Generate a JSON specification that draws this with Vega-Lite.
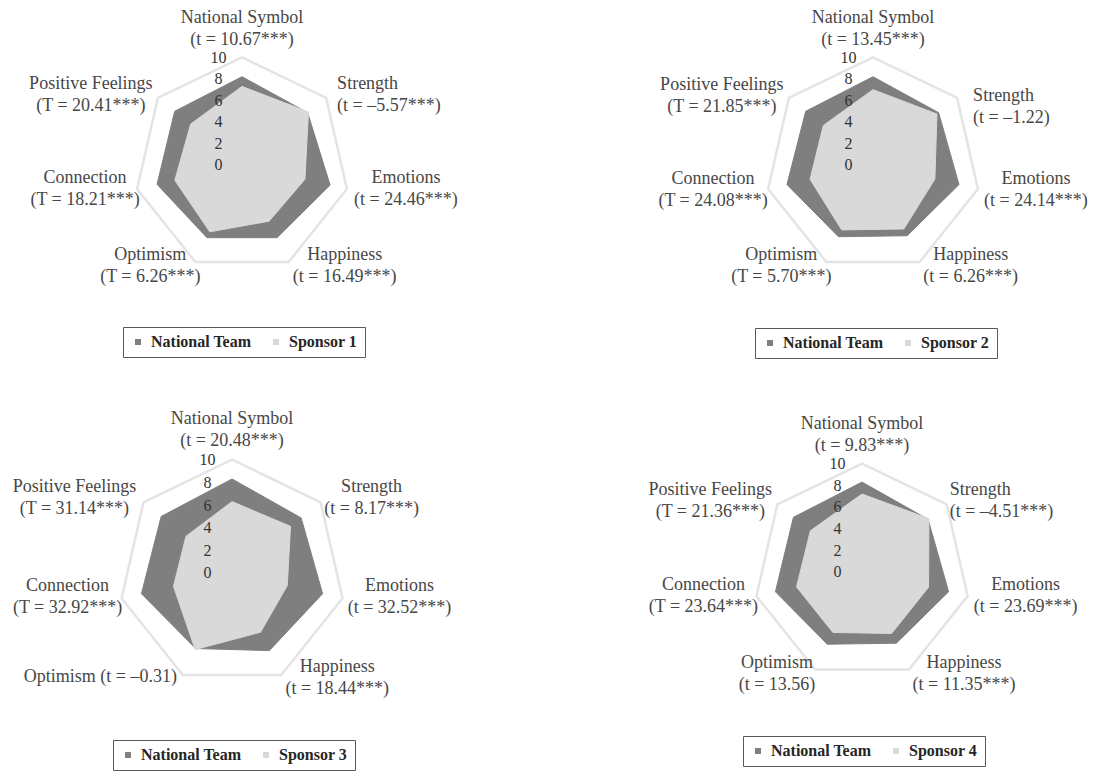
{
"$schema": "https://vega.github.io/schema/vega-lite/v6.json",
"padding": 0,
"background": "white",
"bounds": "flush",
"columns": 2,
"spacing": {"row": 43, "column": 171},
"resolve": {"scale": {"fill": "independent"}, "legend": {"fill": "independent"}},
"config": {
  "view": {"stroke": null},
  "text": {"font": "Liberation Serif", "fontSize": 18, "color": "#474747", "lineBreak": "\n", "lineHeight": 22, "baseline": "middle"},
  "legend": {"title": null, "orient": "none", "direction": "horizontal", "symbolType": "square", "symbolSize": 36, "symbolStrokeWidth": 0, "labelFont": "Liberation Serif", "labelFontSize": 16, "labelFontWeight": "bold", "labelColor": "#262626", "strokeColor": "#595959", "padding": 7, "columnPadding": 16, "labelOffset": 5}
},
"datasets": {
"scores": [
{"panel":1,"idx":0,"axis":"National Symbol","series":"National Team","value":8.2},
{"panel":1,"idx":1,"axis":"Strength","series":"National Team","value":7.8},
{"panel":1,"idx":2,"axis":"Emotions","series":"National Team","value":8.4},
{"panel":1,"idx":3,"axis":"Happiness","series":"National Team","value":7.5},
{"panel":1,"idx":4,"axis":"Optimism","series":"National Team","value":7.5},
{"panel":1,"idx":5,"axis":"Connection","series":"National Team","value":8.1},
{"panel":1,"idx":6,"axis":"Positive Feelings","series":"National Team","value":8.0},
{"panel":1,"idx":0,"axis":"National Symbol","series":"Sponsor 1","value":7.3},
{"panel":1,"idx":1,"axis":"Strength","series":"Sponsor 1","value":7.9},
{"panel":1,"idx":2,"axis":"Emotions","series":"Sponsor 1","value":6.0},
{"panel":1,"idx":3,"axis":"Happiness","series":"Sponsor 1","value":5.8},
{"panel":1,"idx":4,"axis":"Optimism","series":"Sponsor 1","value":6.9},
{"panel":1,"idx":5,"axis":"Connection","series":"Sponsor 1","value":6.4},
{"panel":1,"idx":6,"axis":"Positive Feelings","series":"Sponsor 1","value":6.1},
{"panel":2,"idx":0,"axis":"National Symbol","series":"National Team","value":8.2},
{"panel":2,"idx":1,"axis":"Strength","series":"National Team","value":7.8},
{"panel":2,"idx":2,"axis":"Emotions","series":"National Team","value":8.2},
{"panel":2,"idx":3,"axis":"Happiness","series":"National Team","value":7.3},
{"panel":2,"idx":4,"axis":"Optimism","series":"National Team","value":7.4},
{"panel":2,"idx":5,"axis":"Connection","series":"National Team","value":8.2},
{"panel":2,"idx":6,"axis":"Positive Feelings","series":"National Team","value":8.0},
{"panel":2,"idx":0,"axis":"National Symbol","series":"Sponsor 2","value":7.0},
{"panel":2,"idx":1,"axis":"Strength","series":"Sponsor 2","value":7.6},
{"panel":2,"idx":2,"axis":"Emotions","series":"Sponsor 2","value":5.9},
{"panel":2,"idx":3,"axis":"Happiness","series":"Sponsor 2","value":6.6},
{"panel":2,"idx":4,"axis":"Optimism","series":"Sponsor 2","value":6.7},
{"panel":2,"idx":5,"axis":"Connection","series":"Sponsor 2","value":6.0},
{"panel":2,"idx":6,"axis":"Positive Feelings","series":"Sponsor 2","value":5.9},
{"panel":3,"idx":0,"axis":"National Symbol","series":"National Team","value":8.3},
{"panel":3,"idx":1,"axis":"Strength","series":"National Team","value":7.8},
{"panel":3,"idx":2,"axis":"Emotions","series":"National Team","value":8.2},
{"panel":3,"idx":3,"axis":"Happiness","series":"National Team","value":7.6},
{"panel":3,"idx":4,"axis":"Optimism","series":"National Team","value":7.4},
{"panel":3,"idx":5,"axis":"Connection","series":"National Team","value":8.2},
{"panel":3,"idx":6,"axis":"Positive Feelings","series":"National Team","value":8.0},
{"panel":3,"idx":0,"axis":"National Symbol","series":"Sponsor 3","value":6.3},
{"panel":3,"idx":1,"axis":"Strength","series":"Sponsor 3","value":6.6},
{"panel":3,"idx":2,"axis":"Emotions","series":"Sponsor 3","value":5.0},
{"panel":3,"idx":3,"axis":"Happiness","series":"Sponsor 3","value":5.8},
{"panel":3,"idx":4,"axis":"Optimism","series":"Sponsor 3","value":7.5},
{"panel":3,"idx":5,"axis":"Connection","series":"Sponsor 3","value":5.3},
{"panel":3,"idx":6,"axis":"Positive Feelings","series":"Sponsor 3","value":5.2},
{"panel":4,"idx":0,"axis":"National Symbol","series":"National Team","value":8.3},
{"panel":4,"idx":1,"axis":"Strength","series":"National Team","value":7.8},
{"panel":4,"idx":2,"axis":"Emotions","series":"National Team","value":8.2},
{"panel":4,"idx":3,"axis":"Happiness","series":"National Team","value":7.3},
{"panel":4,"idx":4,"axis":"Optimism","series":"National Team","value":7.4},
{"panel":4,"idx":5,"axis":"Connection","series":"National Team","value":8.2},
{"panel":4,"idx":6,"axis":"Positive Feelings","series":"National Team","value":8.1},
{"panel":4,"idx":0,"axis":"National Symbol","series":"Sponsor 4","value":7.2},
{"panel":4,"idx":1,"axis":"Strength","series":"Sponsor 4","value":7.9},
{"panel":4,"idx":2,"axis":"Emotions","series":"Sponsor 4","value":6.3},
{"panel":4,"idx":3,"axis":"Happiness","series":"Sponsor 4","value":6.3},
{"panel":4,"idx":4,"axis":"Optimism","series":"Sponsor 4","value":6.2},
{"panel":4,"idx":5,"axis":"Connection","series":"Sponsor 4","value":6.2},
{"panel":4,"idx":6,"axis":"Positive Feelings","series":"Sponsor 4","value":6.1}
],
"labels": [
{"panel":1,"idx":0,"text":"National Symbol\n(t = 10.67***)"},
{"panel":1,"idx":1,"text":"Strength\n(t = –5.57***)"},
{"panel":1,"idx":2,"text":"Emotions\n(t = 24.46***)"},
{"panel":1,"idx":3,"text":"Happiness\n(t = 16.49***)"},
{"panel":1,"idx":4,"text":"Optimism\n(T = 6.26***)"},
{"panel":1,"idx":5,"text":"Connection\n(T = 18.21***)"},
{"panel":1,"idx":6,"text":"Positive Feelings\n(T = 20.41***)"},
{"panel":2,"idx":0,"text":"National Symbol\n(t = 13.45***)"},
{"panel":2,"idx":1,"text":"Strength\n(t = –1.22)"},
{"panel":2,"idx":2,"text":"Emotions\n(t = 24.14***)"},
{"panel":2,"idx":3,"text":"Happiness\n(t = 6.26***)"},
{"panel":2,"idx":4,"text":"Optimism\n(T = 5.70***)"},
{"panel":2,"idx":5,"text":"Connection\n(T = 24.08***)"},
{"panel":2,"idx":6,"text":"Positive Feelings\n(T = 21.85***)"},
{"panel":3,"idx":0,"text":"National Symbol\n(t = 20.48***)"},
{"panel":3,"idx":1,"text":"Strength\n(t = 8.17***)"},
{"panel":3,"idx":2,"text":"Emotions\n(t = 32.52***)"},
{"panel":3,"idx":3,"text":"Happiness\n(t = 18.44***)"},
{"panel":3,"idx":4,"text":"Optimism (t = –0.31)"},
{"panel":3,"idx":5,"text":"Connection\n(T = 32.92***)"},
{"panel":3,"idx":6,"text":"Positive Feelings\n(T = 31.14***)"},
{"panel":4,"idx":0,"text":"National Symbol\n(t = 9.83***)"},
{"panel":4,"idx":1,"text":"Strength\n(t = –4.51***)"},
{"panel":4,"idx":2,"text":"Emotions\n(t = 23.69***)"},
{"panel":4,"idx":3,"text":"Happiness\n(t = 11.35***)"},
{"panel":4,"idx":4,"text":"Optimism\n(t = 13.56)"},
{"panel":4,"idx":5,"text":"Connection\n(T = 23.64***)"},
{"panel":4,"idx":6,"text":"Positive Feelings\n(T = 21.36***)"}
]
},
"concat": [
{
 "width": 460, "height": 365,
 "encoding": {
  "x": {"field": "x", "type": "quantitative", "scale": {"domain": [-22.49, 20.26], "nice": false, "zero": false}, "axis": null},
  "y": {"field": "y", "type": "quantitative", "scale": {"domain": [-18.59, 15.33], "nice": false, "zero": false},
        "axis": {"values": [0,2,4,6,8,10], "orient": "left", "offset": -218, "domain": false, "ticks": false, "tickSize": 0, "grid": false, "labelPadding": 0, "labelAlign": "center", "labelBaseline": "middle", "labelFont": "Liberation Serif", "labelFontSize": 16, "labelColor": "#333333", "labelOverlap": false, "labelBound": false, "labelFlush": false, "title": null, "zindex": 1}}
 },
 "layer": [
  {"data": {"name": "scores"}, "transform": [{"filter": "datum.panel === 1 && datum.series === 'National Team'"}, {"calculate": "datum.idx * 2 * PI / 7", "as": "a"}, {"calculate": "10 * sin(datum.a)", "as": "x"}, {"calculate": "10 * cos(datum.a)", "as": "y"}],
   "mark": {"type": "line", "interpolate": "linear-closed", "stroke": "#e4e4e4", "strokeWidth": 2.5},
   "encoding": {"order": {"field": "idx", "type": "quantitative"}}},
  {"data": {"name": "scores"}, "transform": [{"filter": "datum.panel === 1 && datum.series === 'National Team'"}, {"calculate": "datum.idx * 2 * PI / 7", "as": "a"}, {"calculate": "datum.value * sin(datum.a)", "as": "x"}, {"calculate": "datum.value * cos(datum.a)", "as": "y"}],
   "mark": {"type": "line", "interpolate": "linear-closed", "stroke": "#7f7f7f", "strokeWidth": 1},
   "encoding": {"order": {"field": "idx", "type": "quantitative"},
     "fill": {"field": "series", "type": "nominal", "scale": {"domain": ["National Team", "Sponsor 1"], "range": ["#7f7f7f", "#d9d9d9"]}, "legend": {"legendX": 123, "legendY": 327}}}},
  {"data": {"name": "scores"}, "transform": [{"filter": "datum.panel === 1 && datum.series !== 'National Team'"}, {"calculate": "datum.idx * 2 * PI / 7", "as": "a"}, {"calculate": "datum.value * sin(datum.a)", "as": "x"}, {"calculate": "datum.value * cos(datum.a)", "as": "y"}],
   "mark": {"type": "line", "interpolate": "linear-closed", "stroke": "#d9d9d9", "strokeWidth": 1},
   "encoding": {"order": {"field": "idx", "type": "quantitative"},
     "fill": {"field": "series", "type": "nominal", "scale": {"domain": ["National Team", "Sponsor 1"], "range": ["#7f7f7f", "#d9d9d9"]}, "legend": {"legendX": 123, "legendY": 327}}}},
  {"data": {"name": "labels"}, "transform": [{"filter": "datum.panel === 1 && datum.idx === 0"}, {"calculate": "datum.idx * 2 * PI / 7", "as": "a"}, {"calculate": "10 * sin(datum.a)", "as": "x"}, {"calculate": "10 * cos(datum.a)", "as": "y"}], "mark": {"type": "text", "align": "center", "dx": 0, "dy": -39}, "encoding": {"text": {"field": "text", "type": "nominal"}}},
  {"data": {"name": "labels"}, "transform": [{"filter": "datum.panel === 1 && datum.idx === 1"}, {"calculate": "datum.idx * 2 * PI / 7", "as": "a"}, {"calculate": "10 * sin(datum.a)", "as": "x"}, {"calculate": "10 * cos(datum.a)", "as": "y"}], "mark": {"type": "text", "align": "left", "dx": 11, "dy": -14}, "encoding": {"text": {"field": "text", "type": "nominal"}}},
  {"data": {"name": "labels"}, "transform": [{"filter": "datum.panel === 1 && datum.idx === 2"}, {"calculate": "datum.idx * 2 * PI / 7", "as": "a"}, {"calculate": "10 * sin(datum.a)", "as": "x"}, {"calculate": "10 * cos(datum.a)", "as": "y"}], "mark": {"type": "text", "align": "center", "dx": 59, "dy": -11}, "encoding": {"text": {"field": "text", "type": "nominal"}}},
  {"data": {"name": "labels"}, "transform": [{"filter": "datum.panel === 1 && datum.idx === 3"}, {"calculate": "datum.idx * 2 * PI / 7", "as": "a"}, {"calculate": "10 * sin(datum.a)", "as": "x"}, {"calculate": "10 * cos(datum.a)", "as": "y"}], "mark": {"type": "text", "align": "center", "dx": 56, "dy": -7}, "encoding": {"text": {"field": "text", "type": "nominal"}}},
  {"data": {"name": "labels"}, "transform": [{"filter": "datum.panel === 1 && datum.idx === 4"}, {"calculate": "datum.idx * 2 * PI / 7", "as": "a"}, {"calculate": "10 * sin(datum.a)", "as": "x"}, {"calculate": "10 * cos(datum.a)", "as": "y"}], "mark": {"type": "text", "align": "center", "dx": -45, "dy": -7}, "encoding": {"text": {"field": "text", "type": "nominal"}}},
  {"data": {"name": "labels"}, "transform": [{"filter": "datum.panel === 1 && datum.idx === 5"}, {"calculate": "datum.idx * 2 * PI / 7", "as": "a"}, {"calculate": "10 * sin(datum.a)", "as": "x"}, {"calculate": "10 * cos(datum.a)", "as": "y"}], "mark": {"type": "text", "align": "center", "dx": -52, "dy": -11}, "encoding": {"text": {"field": "text", "type": "nominal"}}},
  {"data": {"name": "labels"}, "transform": [{"filter": "datum.panel === 1 && datum.idx === 6"}, {"calculate": "datum.idx * 2 * PI / 7", "as": "a"}, {"calculate": "10 * sin(datum.a)", "as": "x"}, {"calculate": "10 * cos(datum.a)", "as": "y"}], "mark": {"type": "text", "align": "center", "dx": -67, "dy": -14}, "encoding": {"text": {"field": "text", "type": "nominal"}}}
 ]
},
{
 "width": 460, "height": 365,
 "encoding": {
  "x": {"field": "x", "type": "quantitative", "scale": {"domain": [-22.49, 20.26], "nice": false, "zero": false}, "axis": null},
  "y": {"field": "y", "type": "quantitative", "scale": {"domain": [-18.59, 15.33], "nice": false, "zero": false},
        "axis": {"values": [0,2,4,6,8,10], "orient": "left", "offset": -217, "domain": false, "ticks": false, "tickSize": 0, "grid": false, "labelPadding": 0, "labelAlign": "center", "labelBaseline": "middle", "labelFont": "Liberation Serif", "labelFontSize": 16, "labelColor": "#333333", "labelOverlap": false, "labelBound": false, "labelFlush": false, "title": null, "zindex": 1}}
 },
 "layer": [
  {"data": {"name": "scores"}, "transform": [{"filter": "datum.panel === 2 && datum.series === 'National Team'"}, {"calculate": "datum.idx * 2 * PI / 7", "as": "a"}, {"calculate": "10 * sin(datum.a)", "as": "x"}, {"calculate": "10 * cos(datum.a)", "as": "y"}],
   "mark": {"type": "line", "interpolate": "linear-closed", "stroke": "#e4e4e4", "strokeWidth": 2.5},
   "encoding": {"order": {"field": "idx", "type": "quantitative"}}},
  {"data": {"name": "scores"}, "transform": [{"filter": "datum.panel === 2 && datum.series === 'National Team'"}, {"calculate": "datum.idx * 2 * PI / 7", "as": "a"}, {"calculate": "datum.value * sin(datum.a)", "as": "x"}, {"calculate": "datum.value * cos(datum.a)", "as": "y"}],
   "mark": {"type": "line", "interpolate": "linear-closed", "stroke": "#7f7f7f", "strokeWidth": 1},
   "encoding": {"order": {"field": "idx", "type": "quantitative"},
     "fill": {"field": "series", "type": "nominal", "scale": {"domain": ["National Team", "Sponsor 2"], "range": ["#7f7f7f", "#d9d9d9"]}, "legend": {"legendX": 124, "legendY": 328}}}},
  {"data": {"name": "scores"}, "transform": [{"filter": "datum.panel === 2 && datum.series !== 'National Team'"}, {"calculate": "datum.idx * 2 * PI / 7", "as": "a"}, {"calculate": "datum.value * sin(datum.a)", "as": "x"}, {"calculate": "datum.value * cos(datum.a)", "as": "y"}],
   "mark": {"type": "line", "interpolate": "linear-closed", "stroke": "#d9d9d9", "strokeWidth": 1},
   "encoding": {"order": {"field": "idx", "type": "quantitative"},
     "fill": {"field": "series", "type": "nominal", "scale": {"domain": ["National Team", "Sponsor 2"], "range": ["#7f7f7f", "#d9d9d9"]}, "legend": {"legendX": 124, "legendY": 328}}}},
  {"data": {"name": "labels"}, "transform": [{"filter": "datum.panel === 2 && datum.idx === 0"}, {"calculate": "datum.idx * 2 * PI / 7", "as": "a"}, {"calculate": "10 * sin(datum.a)", "as": "x"}, {"calculate": "10 * cos(datum.a)", "as": "y"}], "mark": {"type": "text", "align": "center", "dx": 0, "dy": -39}, "encoding": {"text": {"field": "text", "type": "nominal"}}},
  {"data": {"name": "labels"}, "transform": [{"filter": "datum.panel === 2 && datum.idx === 1"}, {"calculate": "datum.idx * 2 * PI / 7", "as": "a"}, {"calculate": "10 * sin(datum.a)", "as": "x"}, {"calculate": "10 * cos(datum.a)", "as": "y"}], "mark": {"type": "text", "align": "left", "dx": 16, "dy": -2}, "encoding": {"text": {"field": "text", "type": "nominal"}}},
  {"data": {"name": "labels"}, "transform": [{"filter": "datum.panel === 2 && datum.idx === 2"}, {"calculate": "datum.idx * 2 * PI / 7", "as": "a"}, {"calculate": "10 * sin(datum.a)", "as": "x"}, {"calculate": "10 * cos(datum.a)", "as": "y"}], "mark": {"type": "text", "align": "center", "dx": 58, "dy": -10}, "encoding": {"text": {"field": "text", "type": "nominal"}}},
  {"data": {"name": "labels"}, "transform": [{"filter": "datum.panel === 2 && datum.idx === 3"}, {"calculate": "datum.idx * 2 * PI / 7", "as": "a"}, {"calculate": "10 * sin(datum.a)", "as": "x"}, {"calculate": "10 * cos(datum.a)", "as": "y"}], "mark": {"type": "text", "align": "center", "dx": 51, "dy": -7}, "encoding": {"text": {"field": "text", "type": "nominal"}}},
  {"data": {"name": "labels"}, "transform": [{"filter": "datum.panel === 2 && datum.idx === 4"}, {"calculate": "datum.idx * 2 * PI / 7", "as": "a"}, {"calculate": "10 * sin(datum.a)", "as": "x"}, {"calculate": "10 * cos(datum.a)", "as": "y"}], "mark": {"type": "text", "align": "center", "dx": -45, "dy": -7}, "encoding": {"text": {"field": "text", "type": "nominal"}}},
  {"data": {"name": "labels"}, "transform": [{"filter": "datum.panel === 2 && datum.idx === 5"}, {"calculate": "datum.idx * 2 * PI / 7", "as": "a"}, {"calculate": "10 * sin(datum.a)", "as": "x"}, {"calculate": "10 * cos(datum.a)", "as": "y"}], "mark": {"type": "text", "align": "center", "dx": -55, "dy": -10}, "encoding": {"text": {"field": "text", "type": "nominal"}}},
  {"data": {"name": "labels"}, "transform": [{"filter": "datum.panel === 2 && datum.idx === 6"}, {"calculate": "datum.idx * 2 * PI / 7", "as": "a"}, {"calculate": "10 * sin(datum.a)", "as": "x"}, {"calculate": "10 * cos(datum.a)", "as": "y"}], "mark": {"type": "text", "align": "center", "dx": -67, "dy": -13}, "encoding": {"text": {"field": "text", "type": "nominal"}}}
 ]
},
{
 "width": 460, "height": 365,
 "encoding": {
  "x": {"field": "x", "type": "quantitative", "scale": {"domain": [-20.48, 20.12], "nice": false, "zero": false}, "axis": null},
  "y": {"field": "y", "type": "quantitative", "scale": {"domain": [-17.65, 14.56], "nice": false, "zero": false},
        "axis": {"values": [0,2,4,6,8,10], "orient": "left", "offset": -207, "domain": false, "ticks": false, "tickSize": 0, "grid": false, "labelPadding": 0, "labelAlign": "center", "labelBaseline": "middle", "labelFont": "Liberation Serif", "labelFontSize": 16, "labelColor": "#333333", "labelOverlap": false, "labelBound": false, "labelFlush": false, "title": null, "zindex": 1}}
 },
 "layer": [
  {"data": {"name": "scores"}, "transform": [{"filter": "datum.panel === 3 && datum.series === 'National Team'"}, {"calculate": "datum.idx * 2 * PI / 7", "as": "a"}, {"calculate": "10 * sin(datum.a)", "as": "x"}, {"calculate": "10 * cos(datum.a)", "as": "y"}],
   "mark": {"type": "line", "interpolate": "linear-closed", "stroke": "#e4e4e4", "strokeWidth": 2.5},
   "encoding": {"order": {"field": "idx", "type": "quantitative"}}},
  {"data": {"name": "scores"}, "transform": [{"filter": "datum.panel === 3 && datum.series === 'National Team'"}, {"calculate": "datum.idx * 2 * PI / 7", "as": "a"}, {"calculate": "datum.value * sin(datum.a)", "as": "x"}, {"calculate": "datum.value * cos(datum.a)", "as": "y"}],
   "mark": {"type": "line", "interpolate": "linear-closed", "stroke": "#7f7f7f", "strokeWidth": 1},
   "encoding": {"order": {"field": "idx", "type": "quantitative"},
     "fill": {"field": "series", "type": "nominal", "scale": {"domain": ["National Team", "Sponsor 3"], "range": ["#7f7f7f", "#d9d9d9"]}, "legend": {"legendX": 113, "legendY": 332}}}},
  {"data": {"name": "scores"}, "transform": [{"filter": "datum.panel === 3 && datum.series !== 'National Team'"}, {"calculate": "datum.idx * 2 * PI / 7", "as": "a"}, {"calculate": "datum.value * sin(datum.a)", "as": "x"}, {"calculate": "datum.value * cos(datum.a)", "as": "y"}],
   "mark": {"type": "line", "interpolate": "linear-closed", "stroke": "#d9d9d9", "strokeWidth": 1},
   "encoding": {"order": {"field": "idx", "type": "quantitative"},
     "fill": {"field": "series", "type": "nominal", "scale": {"domain": ["National Team", "Sponsor 3"], "range": ["#7f7f7f", "#d9d9d9"]}, "legend": {"legendX": 113, "legendY": 332}}}},
  {"data": {"name": "labels"}, "transform": [{"filter": "datum.panel === 3 && datum.idx === 0"}, {"calculate": "datum.idx * 2 * PI / 7", "as": "a"}, {"calculate": "10 * sin(datum.a)", "as": "x"}, {"calculate": "10 * cos(datum.a)", "as": "y"}], "mark": {"type": "text", "align": "center", "dx": 0, "dy": -41}, "encoding": {"text": {"field": "text", "type": "nominal"}}},
  {"data": {"name": "labels"}, "transform": [{"filter": "datum.panel === 3 && datum.idx === 1"}, {"calculate": "datum.idx * 2 * PI / 7", "as": "a"}, {"calculate": "10 * sin(datum.a)", "as": "x"}, {"calculate": "10 * cos(datum.a)", "as": "y"}], "mark": {"type": "text", "align": "center", "dx": 51, "dy": -15}, "encoding": {"text": {"field": "text", "type": "nominal"}}},
  {"data": {"name": "labels"}, "transform": [{"filter": "datum.panel === 3 && datum.idx === 2"}, {"calculate": "datum.idx * 2 * PI / 7", "as": "a"}, {"calculate": "10 * sin(datum.a)", "as": "x"}, {"calculate": "10 * cos(datum.a)", "as": "y"}], "mark": {"type": "text", "align": "center", "dx": 57, "dy": -12}, "encoding": {"text": {"field": "text", "type": "nominal"}}},
  {"data": {"name": "labels"}, "transform": [{"filter": "datum.panel === 3 && datum.idx === 3"}, {"calculate": "datum.idx * 2 * PI / 7", "as": "a"}, {"calculate": "10 * sin(datum.a)", "as": "x"}, {"calculate": "10 * cos(datum.a)", "as": "y"}], "mark": {"type": "text", "align": "center", "dx": 56, "dy": -8}, "encoding": {"text": {"field": "text", "type": "nominal"}}},
  {"data": {"name": "labels"}, "transform": [{"filter": "datum.panel === 3 && datum.idx === 4"}, {"calculate": "datum.idx * 2 * PI / 7", "as": "a"}, {"calculate": "10 * sin(datum.a)", "as": "x"}, {"calculate": "10 * cos(datum.a)", "as": "y"}], "mark": {"type": "text", "align": "right", "dx": -6, "dy": 2}, "encoding": {"text": {"field": "text", "type": "nominal"}}},
  {"data": {"name": "labels"}, "transform": [{"filter": "datum.panel === 3 && datum.idx === 5"}, {"calculate": "datum.idx * 2 * PI / 7", "as": "a"}, {"calculate": "10 * sin(datum.a)", "as": "x"}, {"calculate": "10 * cos(datum.a)", "as": "y"}], "mark": {"type": "text", "align": "center", "dx": -54, "dy": -12}, "encoding": {"text": {"field": "text", "type": "nominal"}}},
  {"data": {"name": "labels"}, "transform": [{"filter": "datum.panel === 3 && datum.idx === 6"}, {"calculate": "datum.idx * 2 * PI / 7", "as": "a"}, {"calculate": "10 * sin(datum.a)", "as": "x"}, {"calculate": "10 * cos(datum.a)", "as": "y"}], "mark": {"type": "text", "align": "center", "dx": -69, "dy": -15}, "encoding": {"text": {"field": "text", "type": "nominal"}}}
 ]
},
{
 "width": 460, "height": 365,
 "encoding": {
  "x": {"field": "x", "type": "quantitative", "scale": {"domain": [-21.33, 21.14], "nice": false, "zero": false}, "axis": null},
  "y": {"field": "y", "type": "quantitative", "scale": {"domain": [-18.56, 15.14], "nice": false, "zero": false},
        "axis": {"values": [0,2,4,6,8,10], "orient": "left", "offset": -206, "domain": false, "ticks": false, "tickSize": 0, "grid": false, "labelPadding": 0, "labelAlign": "center", "labelBaseline": "middle", "labelFont": "Liberation Serif", "labelFontSize": 16, "labelColor": "#333333", "labelOverlap": false, "labelBound": false, "labelFlush": false, "title": null, "zindex": 1}}
 },
 "layer": [
  {"data": {"name": "scores"}, "transform": [{"filter": "datum.panel === 4 && datum.series === 'National Team'"}, {"calculate": "datum.idx * 2 * PI / 7", "as": "a"}, {"calculate": "10 * sin(datum.a)", "as": "x"}, {"calculate": "10 * cos(datum.a)", "as": "y"}],
   "mark": {"type": "line", "interpolate": "linear-closed", "stroke": "#e4e4e4", "strokeWidth": 2.5},
   "encoding": {"order": {"field": "idx", "type": "quantitative"}}},
  {"data": {"name": "scores"}, "transform": [{"filter": "datum.panel === 4 && datum.series === 'National Team'"}, {"calculate": "datum.idx * 2 * PI / 7", "as": "a"}, {"calculate": "datum.value * sin(datum.a)", "as": "x"}, {"calculate": "datum.value * cos(datum.a)", "as": "y"}],
   "mark": {"type": "line", "interpolate": "linear-closed", "stroke": "#7f7f7f", "strokeWidth": 1},
   "encoding": {"order": {"field": "idx", "type": "quantitative"},
     "fill": {"field": "series", "type": "nominal", "scale": {"domain": ["National Team", "Sponsor 4"], "range": ["#7f7f7f", "#d9d9d9"]}, "legend": {"legendX": 112, "legendY": 328}}}},
  {"data": {"name": "scores"}, "transform": [{"filter": "datum.panel === 4 && datum.series !== 'National Team'"}, {"calculate": "datum.idx * 2 * PI / 7", "as": "a"}, {"calculate": "datum.value * sin(datum.a)", "as": "x"}, {"calculate": "datum.value * cos(datum.a)", "as": "y"}],
   "mark": {"type": "line", "interpolate": "linear-closed", "stroke": "#d9d9d9", "strokeWidth": 1},
   "encoding": {"order": {"field": "idx", "type": "quantitative"},
     "fill": {"field": "series", "type": "nominal", "scale": {"domain": ["National Team", "Sponsor 4"], "range": ["#7f7f7f", "#d9d9d9"]}, "legend": {"legendX": 112, "legendY": 328}}}},
  {"data": {"name": "labels"}, "transform": [{"filter": "datum.panel === 4 && datum.idx === 0"}, {"calculate": "datum.idx * 2 * PI / 7", "as": "a"}, {"calculate": "10 * sin(datum.a)", "as": "x"}, {"calculate": "10 * cos(datum.a)", "as": "y"}], "mark": {"type": "text", "align": "center", "dx": 0, "dy": -40}, "encoding": {"text": {"field": "text", "type": "nominal"}}},
  {"data": {"name": "labels"}, "transform": [{"filter": "datum.panel === 4 && datum.idx === 1"}, {"calculate": "datum.idx * 2 * PI / 7", "as": "a"}, {"calculate": "10 * sin(datum.a)", "as": "x"}, {"calculate": "10 * cos(datum.a)", "as": "y"}], "mark": {"type": "text", "align": "left", "dx": 3, "dy": -14}, "encoding": {"text": {"field": "text", "type": "nominal"}}},
  {"data": {"name": "labels"}, "transform": [{"filter": "datum.panel === 4 && datum.idx === 2"}, {"calculate": "datum.idx * 2 * PI / 7", "as": "a"}, {"calculate": "10 * sin(datum.a)", "as": "x"}, {"calculate": "10 * cos(datum.a)", "as": "y"}], "mark": {"type": "text", "align": "center", "dx": 58, "dy": -11}, "encoding": {"text": {"field": "text", "type": "nominal"}}},
  {"data": {"name": "labels"}, "transform": [{"filter": "datum.panel === 4 && datum.idx === 3"}, {"calculate": "datum.idx * 2 * PI / 7", "as": "a"}, {"calculate": "10 * sin(datum.a)", "as": "x"}, {"calculate": "10 * cos(datum.a)", "as": "y"}], "mark": {"type": "text", "align": "center", "dx": 55, "dy": -7}, "encoding": {"text": {"field": "text", "type": "nominal"}}},
  {"data": {"name": "labels"}, "transform": [{"filter": "datum.panel === 4 && datum.idx === 4"}, {"calculate": "datum.idx * 2 * PI / 7", "as": "a"}, {"calculate": "10 * sin(datum.a)", "as": "x"}, {"calculate": "10 * cos(datum.a)", "as": "y"}], "mark": {"type": "text", "align": "center", "dx": -38, "dy": -7}, "encoding": {"text": {"field": "text", "type": "nominal"}}},
  {"data": {"name": "labels"}, "transform": [{"filter": "datum.panel === 4 && datum.idx === 5"}, {"calculate": "datum.idx * 2 * PI / 7", "as": "a"}, {"calculate": "10 * sin(datum.a)", "as": "x"}, {"calculate": "10 * cos(datum.a)", "as": "y"}], "mark": {"type": "text", "align": "center", "dx": -53, "dy": -11}, "encoding": {"text": {"field": "text", "type": "nominal"}}},
  {"data": {"name": "labels"}, "transform": [{"filter": "datum.panel === 4 && datum.idx === 6"}, {"calculate": "datum.idx * 2 * PI / 7", "as": "a"}, {"calculate": "10 * sin(datum.a)", "as": "x"}, {"calculate": "10 * cos(datum.a)", "as": "y"}], "mark": {"type": "text", "align": "center", "dx": -67, "dy": -14}, "encoding": {"text": {"field": "text", "type": "nominal"}}}
 ]
}
]
}
